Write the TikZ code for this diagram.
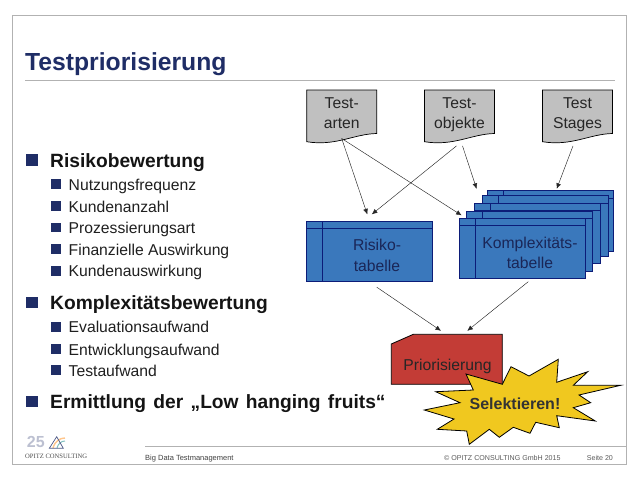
\documentclass[tikz,border=0pt]{standalone}
\usepackage{fontspec}
\usetikzlibrary{arrows.meta}
\setmainfont{Liberation Sans}
\newfontfamily\logofont{Liberation Serif}
\definecolor{navy}{HTML}{1F2D66}
\definecolor{rahmengrau}{HTML}{B2B2B2}
\definecolor{tabblau}{HTML}{3A78BC}
\definecolor{tabrand}{HTML}{0C1C78}
\definecolor{dokgrau}{HTML}{C0C0C0}
\definecolor{prorot}{HTML}{C33C36}
\definecolor{sterngelb}{HTML}{F0C81F}
\tikzset{
  rahmen/.style={draw=rahmengrau,line width=0.9pt},
  pfeil/.style={-{Latex[length=5.5pt,width=4.8pt]},line width=0.45pt,draw=black!85},
  ebeneeins/.style={anchor=base west,inner sep=0pt,font=\fontsize{19.2}{23}\selectfont\bfseries,text=black!92},
  ebenezwei/.style={anchor=base west,inner sep=0pt,font=\fontsize{15.7}{20}\selectfont,text=black!88},
  dokument/.style={minimum width=70pt,minimum height=55pt,inner sep=0pt,align=center,font=\fontsize{15.7}{20}\selectfont,text=black!85},
  tabelle/.style={draw=tabrand,fill=tabblau,line width=0.8pt,minimum width=126pt,minimum height=60.5pt,inner sep=0pt,
    path picture={
      \draw[tabrand,line width=0.8pt] ([yshift=-7.3pt]path picture bounding box.north west) -- ([yshift=-7.3pt]path picture bounding box.north east);
      \draw[tabrand,line width=0.8pt] ([xshift=16pt]path picture bounding box.north west) -- ([xshift=16pt]path picture bounding box.south west);
    }},
  tabtext/.style={inner sep=0pt,align=center,font=\fontsize{15.7}{20.5}\selectfont,text=navy!85!black},
  fuss/.style={anchor=base west,inner sep=0pt,font=\fontsize{7.1}{9}\selectfont,text=black!65},
}
\newcommand{\dokform}[1]{%
  \draw[fill=dokgrau,line width=0.7pt] (#1-35,90) -- (#1+35,90) -- (#1+35,133.5)
    .. controls (#1+12,134) and (#1-6,146.5) .. (#1-35,141.7) -- cycle;
}
\begin{document}
\begin{tikzpicture}[x=1pt,y=-1pt]
\useasboundingbox (0,0) rectangle (638,479);
% Rahmen und Kopf
\draw[rahmen] (12.7,15) rectangle (626,464.3);
\draw[rahmen,line width=0.7pt] (25,80.3) -- (615,80.3);
\draw[rahmen,line width=0.7pt] (145,446.5) -- (626,446.5);
\node[anchor=base west,inner sep=0pt,font=\fontsize{24.7}{28}\selectfont\bfseries,text=navy] (titel) at (25,70) {Testpriorisierung};
% Aufzaehlung
\foreach \nm/\y/\txt in {risiko/167.2/Risikobewertung,komplex/309.8/Komplexitätsbewertung,ernte/408.5/Ermittlung der „Low hanging fruits“} {
  \fill[navy] (26.3,\y-12.9) rectangle ++(11.4,11.4);
  \node[ebeneeins] (l\nm) at (50,\y) {\spaceskip=7.3pt\relax\txt};
}
\foreach \nm/\y/\txt in {nutz/190/Nutzungsfrequenz,kund/212/Kundenanzahl,proz/233.3/Prozessierungsart,finanz/255/Finanzielle Auswirkung,ausw/276.7/Kundenauswirkung,eval/332.7/Evaluationsaufwand,entw/355/Entwicklungsaufwand,test/376/Testaufwand} {
  \fill[navy] (51.3,\y-10.7) rectangle ++(9.7,9.7);
  \node[ebenezwei] (l\nm) at (68.5,\y) {\txt};
}
% Dokumente
\dokform{341.7}
\dokform{459.5}
\dokform{577.5}
\node[dokument] (arten) at (341.7,114.5) {\strut Test-\\\strut arten};
\node[dokument] (objekte) at (459.5,114.5) {\strut Test-\\\strut objekte};
\node[dokument] (stages) at (577.5,114.5) {\strut Test\\\strut Stages};
% Tabellen
\node[tabelle] (risiko) at (369.3,251.5) {};
\node[tabelle] (stapela) at (550,221) {};
\node[tabelle] (stapelb) at (545,226) {};
\node[tabelle] (stapelc) at (537.5,233.5) {};
\node[tabelle] (stapeld) at (529.8,241.3) {};
\node[tabelle] (komplex) at (522.5,248.5) {};
\node[tabtext] (risikotext) at (377,257) {\strut Risiko-\\\strut tabelle};
\node[tabtext] (komplextext) at (530,254.5) {\strut Komplexitäts-\\\strut tabelle};
% Priorisierung und Stern
\draw[fill=prorot,line width=0.8pt] (391.3,344) -- (413.3,334.3) -- (502.3,334.3) -- (502.3,384.3) -- (391.3,384.3) -- cycle;
\node[minimum width=111pt,minimum height=65pt,inner sep=0pt,font=\fontsize{15.7}{20}\selectfont,text=black!85] (prio) at (447.5,366.5) {Priorisierung};
\draw[fill=sterngelb,line width=0.8pt] (466,374) -- (502.3,384.3) -- (511,366.7) -- (529,376) -- (558.3,359.3)
  -- (556.7,382.3) -- (587.7,371.7) -- (573.3,385.3) -- (620.7,385.3) -- (579,395) -- (590.7,402.7)
  -- (573.3,407.7) -- (595.3,421) -- (556.7,415.7) -- (559.3,427.7) -- (535.7,422.3) -- (530,433.3)
  -- (513.3,427.3) -- (499.3,437.3) -- (489.3,429.3) -- (469.3,444.3) -- (466.7,431) -- (437.3,429.3)
  -- (454,419) -- (424.3,410) -- (460,402.7) -- (435.7,391.7) -- (473.3,390) -- cycle;
\node[inner sep=0pt,font=\fontsize{16}{20}\selectfont\bfseries,text=black!80] (selekt) at (515,404) {Selektieren!};
% Pfeile
\draw[pfeil] ([yshift=3.7pt]arten.south) -- ([shift={(-2,-6.5)}]risiko.north);
\draw[pfeil] ([yshift=3.7pt]arten.south) -- ([shift={(2.5,-2.5)}]komplex.north west);
\draw[pfeil] ([shift={(-3,3.7)}]objekte.south) -- ([shift={(2.5,-6.5)}]risiko.north);
\draw[pfeil] ([shift={(3,3.7)}]objekte.south) -- ([shift={(-10,-1.5)}]stapela.north west);
\draw[pfeil] ([shift={(-4.5,3.7)}]stages.south) -- ([shift={(6.7,-1.5)}]stapela.north);
\draw[pfeil] ([shift={(7.4,5)}]risiko.south) -- ([shift={(-6.5,-3)}]prio.north);
\draw[pfeil] ([shift={(5.8,2.5)}]komplex.south) -- ([shift={(19.8,-3)}]prio.north);
% Fusszeile
\node[fuss,text=black!75,font=\fontsize{7.5}{9}\selectfont] (thema) at (145,460) {Big Data Testmanagement};
\node[fuss] (copy) at (444,460) {© OPITZ CONSULTING GmbH 2015};
\node[fuss] (seite) at (586.7,460) {Seite 20};
% Logo
\node[anchor=base west,inner sep=0pt,font=\fontsize{16}{16}\selectfont\bfseries,text=navy!30!white] (jahre) at (26.7,447.8) {25};
\draw[orange!45!white,line width=1.4pt] (53,448) .. controls (55,441) and (60,438) .. (65,438);
\draw[teal!50!white,line width=1pt] (57,448) .. controls (58,444) and (61,441) .. (65,441);
\draw[navy!80!white,line width=0.7pt] (49.3,448.3) -- (56.7,436.7) -- (63.3,448.3) -- cycle;
\node[anchor=base west,inner sep=0pt,font=\logofont\fontsize{6.6}{8}\selectfont,text=black!70] (firma) at (25,458) {OPITZ CONSULTING};
\end{tikzpicture}
\end{document}
